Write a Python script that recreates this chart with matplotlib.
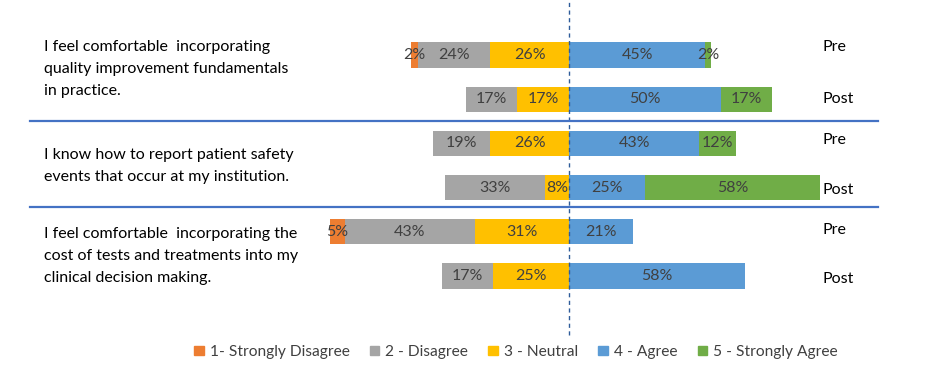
import matplotlib
matplotlib.use("Agg")
import matplotlib.pyplot as plt
import numpy as np

questions = [
    "I feel comfortable  incorporating\nquality improvement fundamentals\nin practice.",
    "I know how to report patient safety\nevents that occur at my institution.",
    "I feel comfortable  incorporating the\ncost of tests and treatments into my\nclinical decision making.",
]
row_labels = ["Pre", "Post", "Pre", "Post", "Pre", "Post"]
categories = ["1- Strongly Disagree", "2 - Disagree", "3 - Neutral", "4 - Agree", "5 - Strongly Agree"]
strongly_disagree = [2, 0, 0, 0, 5, 0]
disagree = [24, 17, 19, 33, 43, 17]
neutral = [26, 17, 26, 8, 31, 25]
agree = [45, 50, 43, 25, 21, 58]
strongly_agree = [2, 17, 12, 58, 0, 0]

colors = ["#ED7D31", "#A5A5A5", "#FFC000", "#5B9BD5", "#70AD47"]
txt_color = "#404040"
plt.rcParams['font.family'] = ['Lato', 'DejaVu Sans']

W, H = 936, 390
fig = plt.figure(figsize=(W / 100, H / 100), dpi=100)
ax = fig.add_axes([0, 0, 1, 1])
center_px = 569
px_per_pct = 3.03
ax.set_xlim(-center_px / px_per_pct, (W - center_px) / px_per_pct)
row_top_px, row_step_px = 55, 44.2
ax.set_ylim((H - row_top_px) / row_step_px, -row_top_px / row_step_px)
ax.axis("off")

ypos = np.arange(len(row_labels))
bar_h = 0.57

def draw(vals, left, color):
    vals = np.array(vals, dtype=float)
    bars = ax.barh(ypos, vals, left=left, height=bar_h, color=color, edgecolor="none")
    for b, v, l in zip(bars, vals, left):
        if v > 0:
            ax.text(l + v / 2, b.get_y() + b.get_height() / 2, f"{int(v)}%",
                    ha="center", va="center", fontsize=11.5, color=txt_color)

zero = np.zeros(len(ypos))
n = np.array(neutral, float)
d = np.array(disagree, float)
sd = np.array(strongly_disagree, float)
a = np.array(agree, float)
sa = np.array(strongly_agree, float)
draw(neutral, -n, colors[2])
draw(disagree, -n - d, colors[1])
draw(strongly_disagree, -n - d - sd, colors[0])
draw(agree, zero, colors[3])
draw(strongly_agree, a, colors[4])

# center dashed line
ax.axvline(0, ymin=(H - 335) / H, ymax=1, color="#2E5C9A", lw=1, ls=(0, (3, 2.5)))

# separators
for yy in [1.49, 3.44]:
    ax.axhline(yy, xmin=30 / W, xmax=878 / W, color="#4472C4", lw=1.6)

# Pre / Post labels
pp_offsets = [-0.18, 0.0, -0.07, 0.05, -0.03, 0.07]
for y, lab, off in zip(ypos, row_labels, pp_offsets):
    fig.text(822 / W, 1 - (row_top_px + (y + off) * row_step_px) / H, lab,
             ha="left", va="center", fontsize=11.5, color="black")

# question text
q_tops = [47, 155, 234]
for q, top in zip(questions, q_tops):
    fig.text(44 / W, 1 - (top - 7) / H, q, ha="left", va="top", fontsize=11.5,
             color="black", linespacing=1.72)

# legend
handles = [plt.Rectangle((0, 0), 1, 1, color=c) for c in colors]
leg = fig.legend(handles, categories, loc="center", bbox_to_anchor=(516 / W, 1 - 352 / H),
                 ncol=5, frameon=False, fontsize=11.2, handlelength=0.6, handleheight=0.6,
                 handletextpad=0.4, columnspacing=1.3, labelcolor=txt_color)

fig.savefig("out.png", dpi=100, facecolor="white")
